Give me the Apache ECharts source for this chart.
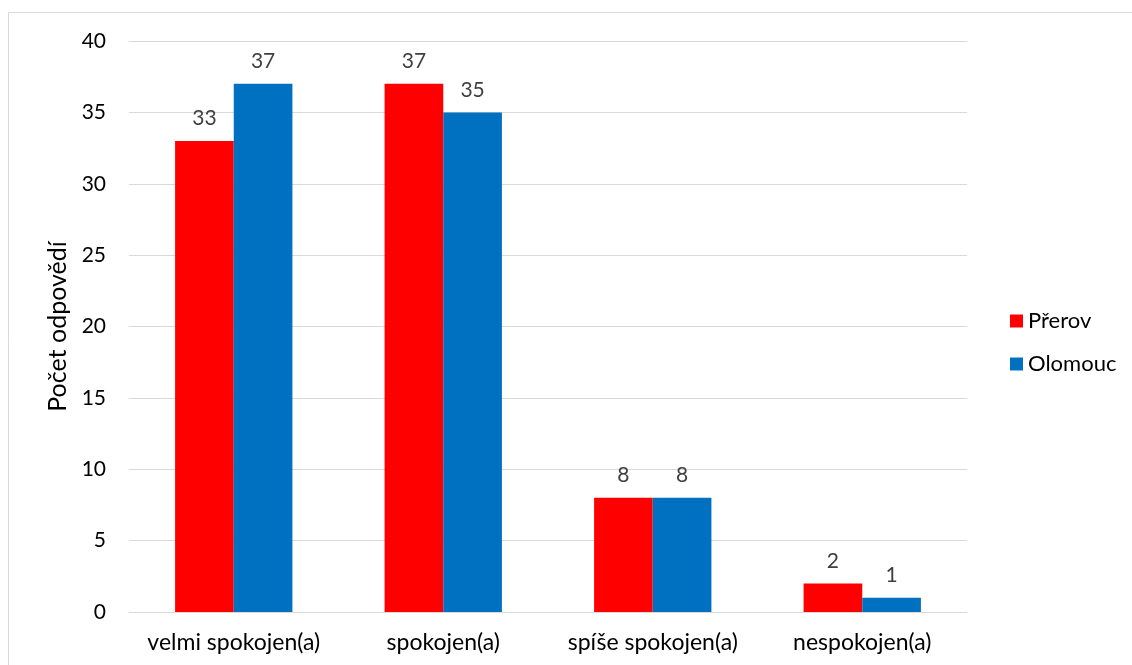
<!DOCTYPE html>
<html><head><meta charset="utf-8">
<script src="https://cdn.jsdelivr.net/npm/echarts@6/dist/echarts.min.js"></script>
<style>html,body{margin:0;padding:0;background:#fff}#c{width:1132px;height:665px}</style>
</head><body><div id="c"></div>
<script>
const categories = ["velmi spokojen(a)", "spokojen(a)", "spíše spokojen(a)", "nespokojen(a)"];
const prerov = [33, 37, 8, 2];
const olomouc = [37, 35, 8, 1];
const yTicks = [0, 5, 10, 15, 20, 25, 30, 35, 40];
const FONT = "Lato";
const chart = echarts.init(document.getElementById('c'));
const labelCfg = {show: true, position: 'top', distance: 12, color: '#404040', fontSize: 21, fontFamily: FONT};
chart.setOption({
  animation: false,
  graphic: [{type: 'rect', shape: {x: 8.5, y: 12.5, width: 1140, height: 700}, style: {fill: 'none', stroke: '#d9d9d9', lineWidth: 1}}],
  grid: {left: 129, right: 165, top: 41, bottom: 53},
  legend: {
    orient: 'vertical', left: 1005, top: 305, itemWidth: 13, itemHeight: 13, itemGap: 21,
    icon: 'rect', textStyle: {fontSize: 22, fontFamily: FONT, color: '#000'}
  },
  xAxis: {
    type: 'category', data: categories,
    axisLine: {lineStyle: {color: '#d9d9d9', width: 1}}, axisTick: {show: false},
    axisLabel: {color: '#000', fontSize: 23, fontFamily: FONT, margin: 19, interval: 0}
  },
  yAxis: {
    type: 'value', min: yTicks[0], max: yTicks[yTicks.length - 1], interval: 5,
    name: 'Počet odpovědí', nameLocation: 'middle', nameGap: 55, nameRotate: 90,
    nameTextStyle: {color: '#000', fontSize: 25, fontFamily: FONT},
    axisLine: {show: false}, axisTick: {show: false},
    axisLabel: {color: '#000', fontSize: 21, fontFamily: FONT, margin: 23},
    splitLine: {lineStyle: {color: '#d9d9d9', width: 1}}
  },
  series: [
    {name: 'Přerov', type: 'bar', data: prerov, barWidth: '28%', barGap: '0%', itemStyle: {color: '#ff0000'}, label: labelCfg},
    {name: 'Olomouc', type: 'bar', data: olomouc, barWidth: '28%', itemStyle: {color: '#0070c0'}, label: labelCfg}
  ]
});
</script></body></html>
